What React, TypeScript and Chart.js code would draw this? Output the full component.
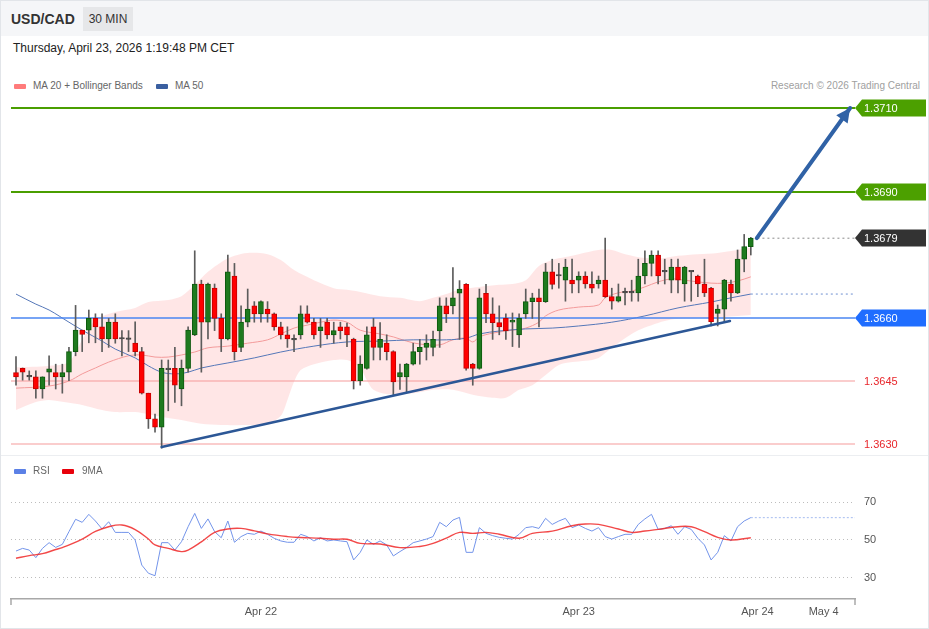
import React, { useEffect, useRef } from "react";
import { Chart, registerables } from "chart.js";

Chart.register(...registerables);

const FONT = "'Liberation Sans', Arial, Helvetica, sans-serif";

// USD/CAD 30-minute candles (index 0 = Apr 21 05:30 CET ... index 111 = Apr 23 13:00 CET)
const openPrices = [
  1.3647, 1.3648, 1.36461, 1.3646, 1.36431, 1.36471, 1.3647, 1.3646, 1.36471, 1.3652,
  1.36571, 1.36571, 1.36599, 1.36579, 1.3655, 1.3659, 1.36551, 1.3655, 1.3654, 1.3652,
  1.36421, 1.3636, 1.3634, 1.3648, 1.3648, 1.36431, 1.3648, 1.3656, 1.36681, 1.3659,
  1.36671, 1.36599, 1.3655, 1.367, 1.3653, 1.3659, 1.36629, 1.3661, 1.36621, 1.3661,
  1.36579, 1.3656, 1.3655, 1.3656, 1.3661, 1.3659, 1.3657, 1.3659, 1.3656, 1.36579,
  1.36579, 1.3655, 1.36451, 1.3648, 1.36579, 1.3653, 1.3654, 1.3652, 1.3646, 1.3646,
  1.3649, 1.3652, 1.3653, 1.3653, 1.36569, 1.36629, 1.36629, 1.36659, 1.3668, 1.3649,
  1.3648, 1.36659, 1.3661, 1.36589, 1.36599, 1.3659, 1.3656, 1.3661, 1.36639, 1.36648,
  1.36639, 1.3671, 1.36701, 1.3669, 1.3669, 1.3669, 1.367, 1.36681, 1.36681, 1.3669,
  1.36651, 1.3664, 1.3666, 1.36661, 1.3666, 1.367, 1.3673, 1.3675, 1.36711, 1.3669,
  1.36721, 1.36681, 1.36711, 1.367, 1.36681, 1.36671, 1.36611, 1.36621, 1.36681, 1.3666,
  1.3674, 1.3677,
];
const highPrices = [
  1.36508, 1.36481, 1.36474, 1.36474, 1.3646, 1.3651, 1.3649, 1.3649, 1.3653, 1.3663,
  1.36571, 1.36619, 1.3661, 1.3661, 1.36599, 1.3661, 1.3657, 1.3657, 1.36591, 1.3653,
  1.36421, 1.36371, 1.365, 1.365, 1.3653, 1.365, 1.36579, 1.3676, 1.3669, 1.36683,
  1.36681, 1.3661, 1.3675, 1.3673, 1.36629, 1.36669, 1.36639, 1.36641, 1.36639, 1.36612,
  1.3659, 1.36579, 1.3656, 1.36629, 1.36629, 1.36599, 1.36599, 1.36599, 1.3659, 1.3659,
  1.36588, 1.36552, 1.3651, 1.36579, 1.36599, 1.36589, 1.3656, 1.36522, 1.3649, 1.36492,
  1.3654, 1.36549, 1.3656, 1.36569, 1.36648, 1.36648, 1.3672, 1.36689, 1.36682, 1.36492,
  1.36669, 1.3668, 1.36648, 1.36629, 1.3661, 1.36612, 1.3661, 1.36669, 1.36659, 1.36669,
  1.3673, 1.3674, 1.3673, 1.3674, 1.3674, 1.3671, 1.3671, 1.3671, 1.367, 1.3679,
  1.36671, 1.36681, 1.36671, 1.3669, 1.3674, 1.3676, 1.3676, 1.3676, 1.3674, 1.3674,
  1.3674, 1.36723, 1.36712, 1.36702, 1.3674, 1.36673, 1.36631, 1.36692, 1.3669, 1.36762,
  1.36799, 1.36792,
];
const lowPrices = [
  1.3644, 1.36452, 1.36452, 1.36409, 1.36409, 1.3644, 1.36431, 1.36421, 1.36451, 1.3651,
  1.3652, 1.36541, 1.36541, 1.3652, 1.3653, 1.3654, 1.3651, 1.3652, 1.3651, 1.36419,
  1.36337, 1.36328, 1.3629, 1.36379, 1.36399, 1.36391, 1.36471, 1.36558, 1.36471, 1.3655,
  1.3657, 1.3652, 1.36548, 1.365, 1.3652, 1.36579, 1.3659, 1.3659, 1.3659, 1.36571,
  1.3655, 1.3653, 1.3652, 1.3655, 1.36588, 1.3655, 1.3653, 1.3655, 1.3654, 1.3655,
  1.36532, 1.36431, 1.3644, 1.36478, 1.365, 1.365, 1.365, 1.36417, 1.3643, 1.36423,
  1.36488, 1.3649, 1.365, 1.3651, 1.3653, 1.36589, 1.3661, 1.36549, 1.36476, 1.3644,
  1.36478, 1.36589, 1.36549, 1.3656, 1.36549, 1.36532, 1.3653, 1.36599, 1.36599, 1.36579,
  1.36637, 1.36669, 1.36671, 1.3664, 1.3666, 1.3666, 1.36671, 1.3666, 1.36671, 1.36649,
  1.36621, 1.36638, 1.36631, 1.3664, 1.3664, 1.36681, 1.367, 1.36681, 1.36681, 1.3666,
  1.3666, 1.3664, 1.3664, 1.36651, 1.36651, 1.36581, 1.36581, 1.36591, 1.3664, 1.36658,
  1.3671, 1.3675,
];
const closePrices = [
  1.3646, 1.36471, 1.3646, 1.36431, 1.3646, 1.36479, 1.3646, 1.3647, 1.3652, 1.36571,
  1.36561, 1.36599, 1.36579, 1.3655, 1.3659, 1.3655, 1.3655, 1.36549, 1.3652, 1.36421,
  1.3636, 1.3634, 1.3648, 1.36477, 1.3644, 1.3648, 1.36571, 1.36681, 1.3659, 1.36681,
  1.36599, 1.3655, 1.3671, 1.3652, 1.3659, 1.36621, 1.3661, 1.36639, 1.3661, 1.36579,
  1.3656, 1.3655, 1.36548, 1.3661, 1.3659, 1.3656, 1.36579, 1.3656, 1.3657, 1.3657,
  1.3656, 1.36451, 1.3649, 1.3656, 1.3653, 1.36549, 1.3652, 1.36448, 1.3647, 1.3649,
  1.3652, 1.3653, 1.3654, 1.36549, 1.36629, 1.3661, 1.36648, 1.36669, 1.3648, 1.3648,
  1.36648, 1.3661, 1.36589, 1.36579, 1.3657, 1.36595, 1.36599, 1.36639, 1.36648, 1.36639,
  1.3671, 1.3668, 1.367, 1.36721, 1.36681, 1.367, 1.36681, 1.36671, 1.3669, 1.36651,
  1.3664, 1.36651, 1.36661, 1.3666, 1.367, 1.3673, 1.3675, 1.367, 1.3671, 1.36721,
  1.3669, 1.36721, 1.3671, 1.36681, 1.3666, 1.36591, 1.36621, 1.3669, 1.3666, 1.3674,
  1.3677, 1.3679,
];

// Indicator readings: [candle index, value]
const bbUpper = [
  [0, 1.36483], [5, 1.36486], [8, 1.36495], [10, 1.36548], [12, 1.36595], [15, 1.36614],
  [18, 1.36624], [20, 1.36638], [23, 1.36643], [25, 1.36652], [27, 1.36679], [29, 1.3671],
  [31, 1.36733], [33, 1.36748], [35, 1.36755], [38, 1.36752], [40, 1.36738], [42, 1.36714],
  [45, 1.3669], [48, 1.36671], [50, 1.36667], [52, 1.36662], [55, 1.36652], [58, 1.36648],
  [61, 1.3664], [63, 1.36648], [65, 1.36657], [67, 1.36667], [70, 1.36674], [73, 1.36679],
  [75, 1.36681], [77, 1.3669], [79, 1.36724], [81, 1.36738], [83, 1.36745], [85, 1.36752],
  [88, 1.36762], [90, 1.36762], [92, 1.36752], [95, 1.36743], [98, 1.36743], [100, 1.36748],
  [103, 1.36752], [106, 1.36755], [109, 1.36762], [111, 1.36767],
];
const bbLower = [
  [0, 1.36381], [3, 1.364], [5, 1.36405], [8, 1.36398], [10, 1.36393], [13, 1.36381],
  [15, 1.36376], [18, 1.36376], [20, 1.36371], [23, 1.36362], [25, 1.36357], [28, 1.36348],
  [31, 1.36345], [35, 1.36345], [38, 1.36348], [40, 1.36367], [41, 1.36405], [42, 1.36448],
  [43, 1.36476], [45, 1.3649], [48, 1.365], [50, 1.365], [52, 1.36481], [53, 1.36452],
  [54, 1.36429], [56, 1.36419], [60, 1.36421], [63, 1.36429], [66, 1.36429], [69, 1.36417],
  [72, 1.3641], [74, 1.3641], [76, 1.36429], [78, 1.3644], [80, 1.36464], [82, 1.36488],
  [84, 1.36495], [86, 1.36498], [88, 1.36505], [90, 1.36529], [92, 1.36552], [94, 1.36571],
  [96, 1.36583], [98, 1.36593], [100, 1.36598], [103, 1.366], [106, 1.36602], [109, 1.36605],
  [111, 1.36607],
];
const ma20 = [
  [0, 1.36433], [5, 1.36438], [8, 1.3645], [10, 1.36467], [12, 1.36481], [14, 1.36495],
  [17, 1.3651], [19, 1.36512], [21, 1.36507], [23, 1.36507], [25, 1.36512], [27, 1.36519],
  [29, 1.36529], [32, 1.36533], [35, 1.3654], [38, 1.36548], [40, 1.36562], [42, 1.36576],
  [44, 1.36583], [46, 1.3659], [48, 1.36595], [50, 1.3659], [52, 1.36571], [55, 1.36562],
  [57, 1.36555], [59, 1.36545], [61, 1.36538], [64, 1.36536], [66, 1.36548], [68, 1.36552],
  [69, 1.36543], [70, 1.36555], [72, 1.36564], [75, 1.36571], [77, 1.36576], [79, 1.3659],
  [80, 1.36605], [82, 1.36619], [85, 1.36626], [88, 1.36631], [89, 1.36648], [91, 1.3666],
  [93, 1.36664], [95, 1.36674], [97, 1.36686], [99, 1.36693], [101, 1.3669], [103, 1.36686],
  [105, 1.36683], [107, 1.36683], [109, 1.36688], [111, 1.36698],
];
const ma50 = [
  [0, 1.36657], [3, 1.36633], [5, 1.36619], [8, 1.3659], [10, 1.36571], [13, 1.36545],
  [15, 1.36526], [18, 1.36505], [20, 1.36486], [22, 1.36471], [24, 1.36467], [26, 1.36471],
  [28, 1.36481], [32, 1.36493], [36, 1.36505], [40, 1.36519], [45, 1.36533], [50, 1.36543],
  [55, 1.36545], [60, 1.36548], [65, 1.36548], [68, 1.36552], [70, 1.36562], [73, 1.36569],
  [77, 1.36574], [81, 1.36576], [85, 1.36581], [90, 1.3659], [95, 1.36605], [100, 1.36624],
  [105, 1.36638], [108, 1.36648], [111, 1.36657],
];

const rsiValues = [
  44.2, 45.6, 44.7, 40.7, 45.6, 48.6, 46.1, 47.7, 54.4, 60.9,
  59.3, 63.5, 60, 55.8, 59.6, 54, 54, 54, 50, 36.8,
  32.5, 31.2, 48.6, 48.6, 44.7, 49.1, 57, 64, 56.1, 61.1,
  54.4, 51.2, 60, 48.8, 51.8, 53.5, 53, 54.7, 53, 50.9,
  49.5, 48.8, 48.8, 53, 51.8, 49.5, 51.2, 49.5, 50, 49.5,
  49.1, 39.5, 43.5, 50, 47.7, 49.5, 47.4, 41.6, 43.9, 46,
  48.6, 49.5, 50.5, 51.8, 59.3, 57, 60.5, 61.9, 43.5, 43.5,
  56.5, 53.5, 52.3, 51.4, 50.9, 50.5, 53, 56.5, 57, 56.1,
  61.4, 58.2, 60, 61.4, 56.5, 57.9, 56.1, 54.7, 56.5, 51.8,
  50.5, 51.8, 53, 53, 58.2, 61.1, 63.5, 55.6, 56.1, 57.5,
  53, 57, 55.6, 50.9, 47.4, 39.5, 43.5, 52.3, 49.5, 57,
  60, 61.8,
];
const rsiMa9 = [
  [0, 40.4], [2, 41.8], [4, 42.8], [6, 45], [7, 46], [10, 50.5], [12, 54.5], [14, 57],
  [16, 57.9], [18, 55.5], [20, 50.5], [21, 47.4], [23, 45.6], [25, 43.9], [26, 44.7],
  [28, 49], [30, 54], [32, 55.8], [34, 56.1], [36, 54.8], [38, 53.2], [41, 51.8], [43, 51.3],
  [46, 50.9], [48, 50.4], [50, 50.4], [52, 48.2], [55, 47.9], [58, 46], [61, 46.6], [63, 48.2],
  [65, 51], [67, 54], [69, 53.5], [71, 54], [73, 53], [76, 50.9], [78, 53.5], [81, 54.7],
  [84, 57.5], [86, 58.4], [88, 58.2], [91, 55.8], [93, 54], [95, 54.7], [97, 55.6], [100, 57],
  [102, 57], [104, 54.4], [106, 51.4], [108, 50], [111, 51.2],
];

const resistanceLevels = [1.371, 1.369];
const pivotLevel = 1.366;
const supportLevels = [1.3645, 1.363];
const lastPrice = 1.3679;
const trendLine = [[22, 1.36293], [107.85, 1.36593]];
const targetArrow = [[111.9, 1.3679], [126.0, 1.371]];
const rsiLevels = [30, 50, 70];
const timeTickIdx = [37, 85, 112, 122];
const timeTickLabels = ["Apr 22", "Apr 23", "Apr 24", "May 4"];

const X_MIN = -0.755;
const X_MAX = 126.74;
const P_MAX = 1.3712857;
const P_MIN = 1.3627143;

const UP = "#1e7a1e";
const UP_EDGE = "#0e5a0e";
const DOWN = "#ff0000";
const DOWN_EDGE = "#c40000";
const DOJI = "#444444";
const ARROW = "#3062a6";

const pts = (arr: number[][]) => arr.map(([x, y]) => ({ x, y }));
const hline = (v: number, x0 = X_MIN, x1 = X_MAX) => [{ x: x0, y: v }, { x: x1, y: v }];

function mainConfig(): any {
  const kind = openPrices.map((o, i) => {
    const c = closePrices[i];
    if (Math.abs(c - o) < 0.000035) return 0;
    return c > o ? 1 : -1;
  });
  const fill = kind.map((k) => (k === 0 ? DOJI : k > 0 ? UP : DOWN));
  const edge = kind.map((k) => (k === 0 ? DOJI : k > 0 ? UP_EDGE : DOWN_EDGE));

  const line = (data: any[], color: string, width: number, order: number, extra: any = {}) => ({
    type: "line",
    data,
    borderColor: color,
    borderWidth: width,
    pointRadius: 0,
    tension: 0,
    fill: false,
    order,
    ...extra,
  });

  const datasets: any[] = [
    line(pts(targetArrow), ARROW, 4, 0, { borderCapStyle: "round" }),
    line(pts(trendLine), "#2c5796", 2.5, 1, { borderCapStyle: "round" }),
    {
      type: "bar",
      data: openPrices.map((o, i) => ({ x: i, y: [o, closePrices[i]] })),
      backgroundColor: fill,
      borderColor: edge,
      borderWidth: 1,
      borderSkipped: false,
      barThickness: 5,
      minBarLength: 1.5,
      grouped: false,
      order: 2,
    },
    {
      type: "bar",
      data: lowPrices.map((l, i) => ({ x: i, y: [l, highPrices[i]] })),
      backgroundColor: "#5c5c5c",
      borderWidth: 0,
      barThickness: 1,
      grouped: false,
      order: 3,
    },
    ...resistanceLevels.map((v) => line(hline(v), "#4a9e00", 2, 4)),
    line(hline(pivotLevel), "#4a86f2", 1.5, 4),
    ...supportLevels.map((v) => line(hline(v), "#f59b9b", 1, 4)),
    line(hline(lastPrice, 112, X_MAX), "#8a8a8a", 1, 4, { borderDash: [2, 3] }),
    line(hline(ma50[ma50.length - 1][1], 111, X_MAX), "#6d8fd0", 1, 5, { borderDash: [2, 3] }),
    line(pts(ma50), "#5577b8", 1, 6, { tension: 0.35 }),
    line(pts(ma20), "#f39a9a", 1, 7, { tension: 0.35 }),
    line(pts(bbUpper), "rgba(0,0,0,0)", 0, 8, {
      tension: 0.3,
      fill: "+1",
      backgroundColor: "rgba(255, 205, 205, 0.5)",
    }),
    line(pts(bbLower), "rgba(0,0,0,0)", 0, 9, { tension: 0.3 }),
  ];

  const overlay = {
    id: "overlay",
    afterDatasetsDraw(chart: any) {
      const { ctx, chartArea, scales } = chart;
      const xs = scales.x;
      const ys = scales.y;
      ctx.save();
      // arrow head
      const x0 = xs.getPixelForValue(targetArrow[0][0]);
      const y0 = ys.getPixelForValue(targetArrow[0][1]);
      const x1 = xs.getPixelForValue(targetArrow[1][0]);
      const y1 = ys.getPixelForValue(targetArrow[1][1]);
      const a = Math.atan2(y1 - y0, x1 - x0);
      const c = Math.cos(a);
      const s = Math.sin(a);
      const L = 14;
      const W = 7;
      const bx = x1 - L * c;
      const by = y1 - L * s;
      ctx.fillStyle = ARROW;
      ctx.beginPath();
      ctx.moveTo(x1, y1);
      ctx.lineTo(bx - W * s, by + W * c);
      ctx.lineTo(bx + W * s, by - W * c);
      ctx.closePath();
      ctx.fill();

      // price tags
      const tags = [
        [resistanceLevels[0], "#4ca000"],
        [resistanceLevels[1], "#4ca000"],
        [lastPrice, "#333333"],
        [pivotLevel, "#1f6dff"],
      ];
      const left = chartArea.right;
      const right = 926;
      ctx.font = "11px " + FONT;
      ctx.textBaseline = "middle";
      ctx.textAlign = "left";
      tags.forEach(([v, col]: any) => {
        const y = Math.round(ys.getPixelForValue(v));
        ctx.fillStyle = col;
        ctx.beginPath();
        ctx.moveTo(left, y);
        ctx.lineTo(left + 7, y - 8.5);
        ctx.lineTo(right, y - 8.5);
        ctx.lineTo(right, y + 8.5);
        ctx.lineTo(left + 7, y + 8.5);
        ctx.closePath();
        ctx.fill();
        ctx.fillStyle = "#ffffff";
        ctx.fillText(v.toFixed(4), left + 9, y + 0.5);
      });
      supportLevels.forEach((v) => {
        const y = Math.round(ys.getPixelForValue(v));
        ctx.fillStyle = "#e8262b";
        ctx.fillText(v.toFixed(4), left + 9, y + 0.5);
      });
      ctx.restore();
    },
  };

  return {
    type: "bar",
    data: { datasets },
    options: {
      responsive: false,
      animation: false,
      events: [],
      layout: { padding: { left: 11, right: 0, top: 0, bottom: 0 } },
      plugins: { legend: { display: false }, tooltip: { enabled: false } },
      scales: {
        x: {
          type: "linear",
          min: X_MIN,
          max: X_MAX,
          offset: false,
          display: false,
        },
        y: {
          type: "linear",
          position: "right",
          min: P_MIN,
          max: P_MAX,
          grid: { display: false },
          border: { display: false },
          ticks: { display: false },
          afterFit: (s: any) => {
            s.width = 74;
          },
        },
      },
    },
    plugins: [overlay],
  };
}

function rsiConfig(): any {
  const endTicks = {
    id: "endTicks",
    afterDraw(chart: any) {
      const { ctx, chartArea } = chart;
      ctx.save();
      ctx.strokeStyle = "#a8a8a8";
      ctx.lineWidth = 1.5;
      [chartArea.left, chartArea.right].forEach((x: number) => {
        ctx.beginPath();
        ctx.moveTo(x, chartArea.bottom);
        ctx.lineTo(x, chartArea.bottom + 6);
        ctx.stroke();
      });
      ctx.restore();
    },
  };
  const last = rsiValues[rsiValues.length - 1];
  return {
    type: "line",
    data: {
      datasets: [
        {
          data: rsiValues.map((v, i) => ({ x: i, y: v })),
          borderColor: "#7394ea",
          borderWidth: 1,
          pointRadius: 0,
          tension: 0,
          order: 1,
        },
        {
          data: pts(rsiMa9),
          borderColor: "rgba(240, 40, 40, 0.85)",
          borderWidth: 1.4,
          pointRadius: 0,
          tension: 0.4,
          order: 0,
        },
        {
          data: [
            { x: rsiValues.length - 1, y: last },
            { x: X_MAX, y: last },
          ],
          borderColor: "#b3c6f2",
          borderWidth: 1.2,
          borderDash: [2, 2],
          pointRadius: 0,
          order: 2,
        },
      ],
    },
    options: {
      responsive: false,
      animation: false,
      events: [],
      layout: { padding: { left: 11, right: 0, top: 34, bottom: 0 } },
      plugins: { legend: { display: false }, tooltip: { enabled: false } },
      scales: {
        x: {
          type: "linear",
          min: X_MIN,
          max: X_MAX,
          offset: false,
          grid: { display: false, drawTicks: false },
          border: { display: true, color: "#a8a8a8", width: 1.5 },
          afterBuildTicks: (axis: any) => {
            axis.ticks = timeTickIdx.map((v) => ({ value: v }));
          },
          afterFit: (s: any) => {
            s.height = 30;
          },
          ticks: {
            autoSkip: false,
            maxRotation: 0,
            padding: 6,
            color: "#555555",
            font: { size: 11, family: FONT },
            callback: (_v: any, i: number) => timeTickLabels[i],
          },
        },
        y: {
          type: "linear",
          position: "right",
          min: 18.947,
          max: 76.316,
          afterBuildTicks: (axis: any) => {
            axis.ticks = rsiLevels.map((v) => ({ value: v }));
          },
          afterFit: (s: any) => {
            s.width = 74;
          },
          grid: { color: "#bdbdbd", lineWidth: 1, drawTicks: false },
          border: { display: false, dash: [1, 3] },
          ticks: {
            padding: 9,
            color: "#555555",
            font: { size: 11, family: FONT },
          },
        },
      },
    },
    plugins: [endTicks],
  };
}

export default function App() {
  const mainRef = useRef<HTMLCanvasElement>(null);
  const rsiRef = useRef<HTMLCanvasElement>(null);

  useEffect(() => {
    Chart.defaults.font.family = FONT;
    const main = new Chart(mainRef.current as HTMLCanvasElement, mainConfig());
    const rsi = new Chart(rsiRef.current as HTMLCanvasElement, rsiConfig());
    return () => {
      main.destroy();
      rsi.destroy();
    };
  }, []);

  const abs = (s: any): any => ({ position: "absolute", ...s });
  const legendText = { fontSize: 10, lineHeight: "12px", color: "#666" };

  return (
    <div
      style={abs({
        left: 0,
        top: 0,
        width: 929,
        height: 629,
        background: "#ffffff",
        overflow: "hidden",
        fontFamily: FONT,
      })}
    >
      <div style={abs({ left: 1, top: 1, width: 927, height: 35, background: "#f5f6f8" })} />
      <div style={abs({ left: 11, top: 11, fontSize: 14, lineHeight: "16px", fontWeight: "bold", color: "#333" })}>
        USD/CAD
      </div>
      <div
        style={abs({
          left: 83,
          top: 7,
          width: 50,
          height: 24,
          lineHeight: "24px",
          textAlign: "center",
          fontSize: 12,
          color: "#333",
          background: "#e6e7e9",
        })}
      >
        30 MIN
      </div>
      <div style={abs({ left: 13, top: 41, fontSize: 12, lineHeight: "14px", color: "#222" })}>
        Thursday, April 23, 2026 1:19:48 PM CET
      </div>

      <div style={abs({ left: 14, top: 84, width: 12, height: 5, background: "#ff7b7b", borderRadius: 1 })} />
      <div style={abs({ left: 33, top: 80, ...legendText })}>MA 20 + Bollinger Bands</div>
      <div style={abs({ left: 156, top: 84, width: 12, height: 5, background: "#3a5fa0", borderRadius: 1 })} />
      <div style={abs({ left: 175, top: 80, ...legendText })}>MA 50</div>
      <div style={abs({ right: 9, top: 80, fontSize: 10, lineHeight: "12px", color: "#a0a0a0" })}>
        Research © 2026 Trading Central
      </div>

      <canvas ref={mainRef} width={929} height={360} style={abs({ left: 0, top: 96, width: 929, height: 360 })} />

      <div style={abs({ left: 1, top: 455, width: 927, height: 1, background: "#eceef1" })} />
      <div style={abs({ left: 14, top: 469, width: 12, height: 5, background: "#5b80e6", borderRadius: 1 })} />
      <div style={abs({ left: 33, top: 465, ...legendText })}>RSI</div>
      <div style={abs({ left: 62, top: 469, width: 12, height: 5, background: "#e8000b", borderRadius: 1 })} />
      <div style={abs({ left: 82, top: 465, ...legendText })}>9MA</div>

      <canvas ref={rsiRef} width={929} height={173} style={abs({ left: 0, top: 456, width: 929, height: 173 })} />

      <div
        style={abs({
          left: 0,
          top: 0,
          width: 929,
          height: 629,
          boxSizing: "border-box",
          border: "1px solid #e2e5e9",
          pointerEvents: "none",
        })}
      />
    </div>
  );
}
